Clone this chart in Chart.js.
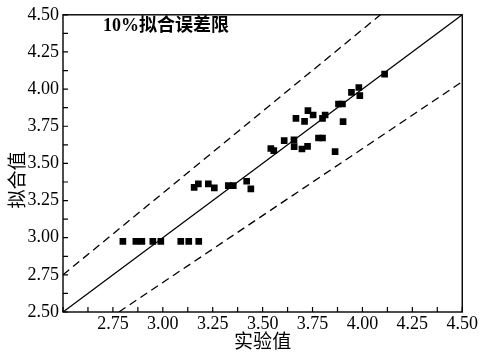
<!DOCTYPE html>
<html>
<head>
<meta charset="utf-8">
<script src="https://cdn.jsdelivr.net/npm/chart.js@4/dist/chart.umd.min.js"></script>
<style>
  html, body { margin: 0; padding: 0; background: #fff; }
  #wrap { width: 479px; height: 352px; position: relative; }
</style>
</head>
<body>
<div id="wrap"><canvas id="fitChart"></canvas></div>
<script>
// measured (实验值) vs fitted (拟合值)
const measuredX = [
  2.80, 2.865, 2.895, 2.95, 2.99, 3.09, 3.13, 3.18,
  3.157, 3.178, 3.228, 3.258, 3.328, 3.353, 3.42, 3.441,
  3.541, 3.556, 3.608, 3.657, 3.658, 3.667, 3.697, 3.71, 3.725, 3.727,
  3.753, 3.78, 3.80, 3.80, 3.813, 3.863, 3.88, 3.90, 3.903,
  3.945, 3.982, 3.987, 4.111
];
const fittedY = [
  2.975, 2.975, 2.975, 2.975, 2.975, 2.975, 2.975, 2.975,
  3.339, 3.362, 3.362, 3.335, 3.35, 3.35, 3.38, 3.329,
  3.60, 3.586, 3.653, 3.658, 3.613, 3.803, 3.597, 3.783, 3.615, 3.855,
  3.826, 3.671, 3.671, 3.803, 3.826, 3.579, 3.90, 3.90, 3.781,
  3.978, 4.011, 3.956, 4.101
];

// reference lines: y = x and the ±10% bounds
const idealX = [2.5, 4.5];
const idealY = [2.5, 4.5];
const upperX = [2.5, 4.09];
const upperY = [2.75, 4.5];
const lowerX = [2.78, 4.5];
const lowerY = [2.5, 4.05];

const axisMin = 2.5;
const axisMax = 4.5;
const tickStep = 0.25;
const minorStep = 0.125;

const noteText = '10%拟合误差限';
const xTitle = '实验值';
const yTitle = '拟合值';

const toPoints = (xs, ys) => xs.map((x, i) => ({ x, y: ys[i] }));

const SERIF = '"Liberation Serif", "Times New Roman", "DejaVu Serif", serif';
const CJK = '"Noto Sans CJK SC", "Noto Sans", sans-serif';

const frameAndLabels = {
  id: 'frameAndLabels',
  afterDraw(chart) {
    const { ctx, chartArea: a, scales } = chart;
    ctx.save();
    ctx.strokeStyle = '#000';
    ctx.lineWidth = 1.4;
    ctx.strokeRect(a.left, a.top, a.right - a.left, a.bottom - a.top);

    // inward ticks on left and bottom axes
    ctx.lineWidth = 1.2;
    ctx.beginPath();
    for (let v = axisMin; v <= axisMax + 1e-9; v += minorStep) {
      const px = scales.x.getPixelForValue(v);
      ctx.moveTo(px, a.bottom);
      ctx.lineTo(px, a.bottom - 5);
      const py = scales.y.getPixelForValue(v);
      ctx.moveTo(a.left, py);
      ctx.lineTo(a.left + 5, py);
    }
    ctx.stroke();

    ctx.fillStyle = '#000';
    ctx.textBaseline = 'middle';
    ctx.textAlign = 'left';
    ctx.font = 'bold 18px ' + SERIF + ', ' + CJK;
    ctx.fillText(noteText, 103, 26);

    ctx.textAlign = 'center';
    ctx.font = '19px ' + CJK;
    ctx.fillText(xTitle, (a.left + a.right) / 2, 341);

    ctx.translate(17, 180);
    ctx.rotate(-Math.PI / 2);
    ctx.fillText(yTitle, 0, 0);
    ctx.restore();
  }
};

new Chart(document.getElementById('fitChart'), {
  type: 'scatter',
  data: {
    datasets: [
      {
        data: toPoints(idealX, idealY),
        showLine: true,
        borderColor: '#000',
        borderWidth: 1.3,
        pointRadius: 0,
        order: 2,
      },
      {
        data: toPoints(upperX, upperY),
        showLine: true,
        borderColor: '#000',
        borderWidth: 1.3,
        borderDash: [8, 5],
        pointRadius: 0,
        order: 2,
      },
      {
        data: toPoints(lowerX, lowerY),
        showLine: true,
        borderColor: '#000',
        borderWidth: 1.3,
        borderDash: [8, 5],
        pointRadius: 0,
        order: 2,
      },
      {
        data: toPoints(measuredX, fittedY),
        pointStyle: 'rect',
        pointRadius: 4.7,
        backgroundColor: '#000',
        borderColor: '#000',
        borderWidth: 0,
        order: 1,
      },
    ],
  },
  options: {
    responsive: true,
    maintainAspectRatio: false,
    animation: false,
    layout: { padding: { top: 14, right: 16, left: 0, bottom: 0 } },
    plugins: {
      legend: { display: false },
      tooltip: { enabled: false },
    },
    scales: {
      x: {
        type: 'linear',
        min: axisMin,
        max: axisMax,
        afterFit: (s) => { s.height = 40; },
        grid: { display: false, drawTicks: false },
        border: { display: false },
        ticks: {
          stepSize: tickStep,
          padding: 1,
          color: '#000',
          maxRotation: 0,
          font: { family: SERIF, size: 18 },
          callback: (v) => (v === axisMin ? '' : Number(v).toFixed(2)),
        },
      },
      y: {
        type: 'linear',
        min: axisMin,
        max: axisMax,
        afterFit: (s) => { s.width = 63; },
        grid: { display: false, drawTicks: false },
        border: { display: false },
        ticks: {
          stepSize: tickStep,
          padding: 4,
          color: '#000',
          font: { family: SERIF, size: 18 },
          callback: (v) => Number(v).toFixed(2),
        },
      },
    },
  },
  plugins: [frameAndLabels],
});
</script>
</body>
</html>
